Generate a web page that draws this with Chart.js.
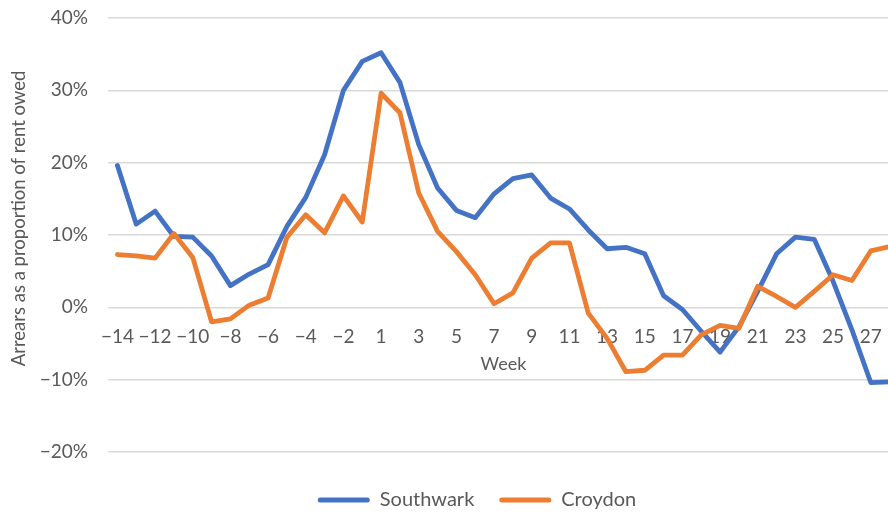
<!DOCTYPE html>
<html>
<head>
<meta charset="utf-8">
<script src="https://cdn.jsdelivr.net/npm/chart.js@4.4.1/dist/chart.umd.min.js"></script>
<style>
  html, body { margin: 0; padding: 0; overflow: hidden; background: #fff; width: 888px; height: 514px; }
  canvas { display: block; }
</style>
</head>
<body>
<canvas id="c" width="954" height="514"></canvas>
<script>
// ---- data ----
const weeks = ["−14","−13","−12","−11","−10","−9","−8","−7","−6","−5","−4","−3","−2","−1",
  "1","2","3","4","5","6","7","8","9","10","11","12","13","14","15","16","17","18","19","20",
  "21","22","23","24","25","26","27","28"];
const xTickLabels = ["−14","−12","−10","−8","−6","−4","−2","1","3","5","7","9","11","13","15","17","19","21","23","25","27"];
const southwark = [19.6, 11.5, 13.3, 9.8, 9.7, 7.1, 3.0, 4.6, 5.9, 11.2, 15.2, 21.1, 30.0, 34.0,
  35.2, 31.1, 22.5, 16.5, 13.4, 12.4, 15.7, 17.8, 18.3, 15.1, 13.6, 10.7, 8.1, 8.3, 7.4, 1.6,
  -0.3, -3.3, -6.2, -2.7, 2.2, 7.4, 9.7, 9.4, 3.6, -3.1, -10.4, -10.3];
const croydon = [7.3, 7.1, 6.8, 10.2, 6.9, -2.0, -1.6, 0.3, 1.3, 9.7, 12.8, 10.3, 15.4, 11.8,
  29.6, 26.9, 15.8, 10.5, 7.7, 4.5, 0.5, 2.0, 6.8, 8.9, 8.9, -0.8, -4.3, -8.9, -8.7, -6.6,
  -6.6, -3.8, -2.5, -2.9, 2.9, 1.5, 0.0, 2.2, 4.5, 3.7, 7.8, 8.4];
const seriesNames = ["Southwark", "Croydon"];
const yTitle = "       Arrears as a proportion of rent owed";
const xTitle = "Week";

const textColor = "#595959";
const FONT = "Lato";

const legendShift = {
  id: "legendShift",
  afterLayout(chart) {
    const l = chart.legend;
    if (!l) return;
    l.left = 0; l.right = chart.width; l.width = chart.width;
    l.top += 13; l.bottom += 13;
  }
};

new Chart(document.getElementById("c"), {
  type: "line",
  data: {
    labels: weeks,
    datasets: [
      { label: seriesNames[0], data: southwark, borderColor: "#4472C4", backgroundColor: "#4472C4", order: 1 },
      { label: seriesNames[1], data: croydon, borderColor: "#ED7D31", backgroundColor: "#ED7D31", order: 0 }
    ]
  },
  options: {
    responsive: false,
    animation: false,
    layout: { padding: { top: 18, right: 55, bottom: 7, left: 0 } },
    elements: {
      line: { borderWidth: 4.8, tension: 0, borderJoinStyle: "round", borderCapStyle: "round" },
      point: { radius: 0, hoverRadius: 0 }
    },
    plugins: {
      tooltip: { enabled: false },
      legend: {
        position: "bottom",
        labels: {
          font: { family: FONT, size: 20 },
          color: textColor,
          boxWidth: 52,
          boxHeight: 5,
          padding: 25,
          generateLabels(chart) {
            return chart.data.datasets.map((ds, i) => ({
              text: ds.label,
              fillStyle: ds.borderColor,
              strokeStyle: ds.borderColor,
              lineWidth: 0,
              borderRadius: 2.5,
              fontColor: textColor,
              hidden: false,
              datasetIndex: i
            }));
          }
        }
      }
    },
    scales: {
      x: {
        type: "category",
        offset: true,
        position: { y: 0 },
        grid: { display: false, drawTicks: false },
        border: { display: false },
        ticks: {
          autoSkip: false,
          maxRotation: 0,
          padding: 18,
          color: textColor,
          font: { family: FONT, size: 19 },
          callback(val, idx) {
            const l = this.getLabelForValue(val);
            return xTickLabels.includes(l) ? l : "";
          }
        },
        title: {
          display: true,
          text: xTitle,
          color: textColor,
          font: { family: FONT, size: 18 },
          padding: { top: -13, bottom: 0 }
        }
      },
      y: {
        min: -20,
        max: 40,
        grid: { color: "#d9d9d9", lineWidth: 1.5, drawTicks: false },
        border: { display: false },
        ticks: {
          stepSize: 10,
          padding: 20,
          color: textColor,
          font: { family: FONT, size: 19 },
          callback: (v) => (v < 0 ? "−" + Math.abs(v) : v) + "%"
        },
        title: {
          display: true,
          text: yTitle,
          color: textColor,
          font: { family: FONT, size: 18.5 },
          padding: { top: 8, bottom: 0 }
        },
        afterFit(scale) {
          scale.width = 108;
          scale.paddingTop = 11;
          scale.paddingBottom = 11;
        }
      }
    }
  },
  plugins: [legendShift]
});
</script>
</body>
</html>
